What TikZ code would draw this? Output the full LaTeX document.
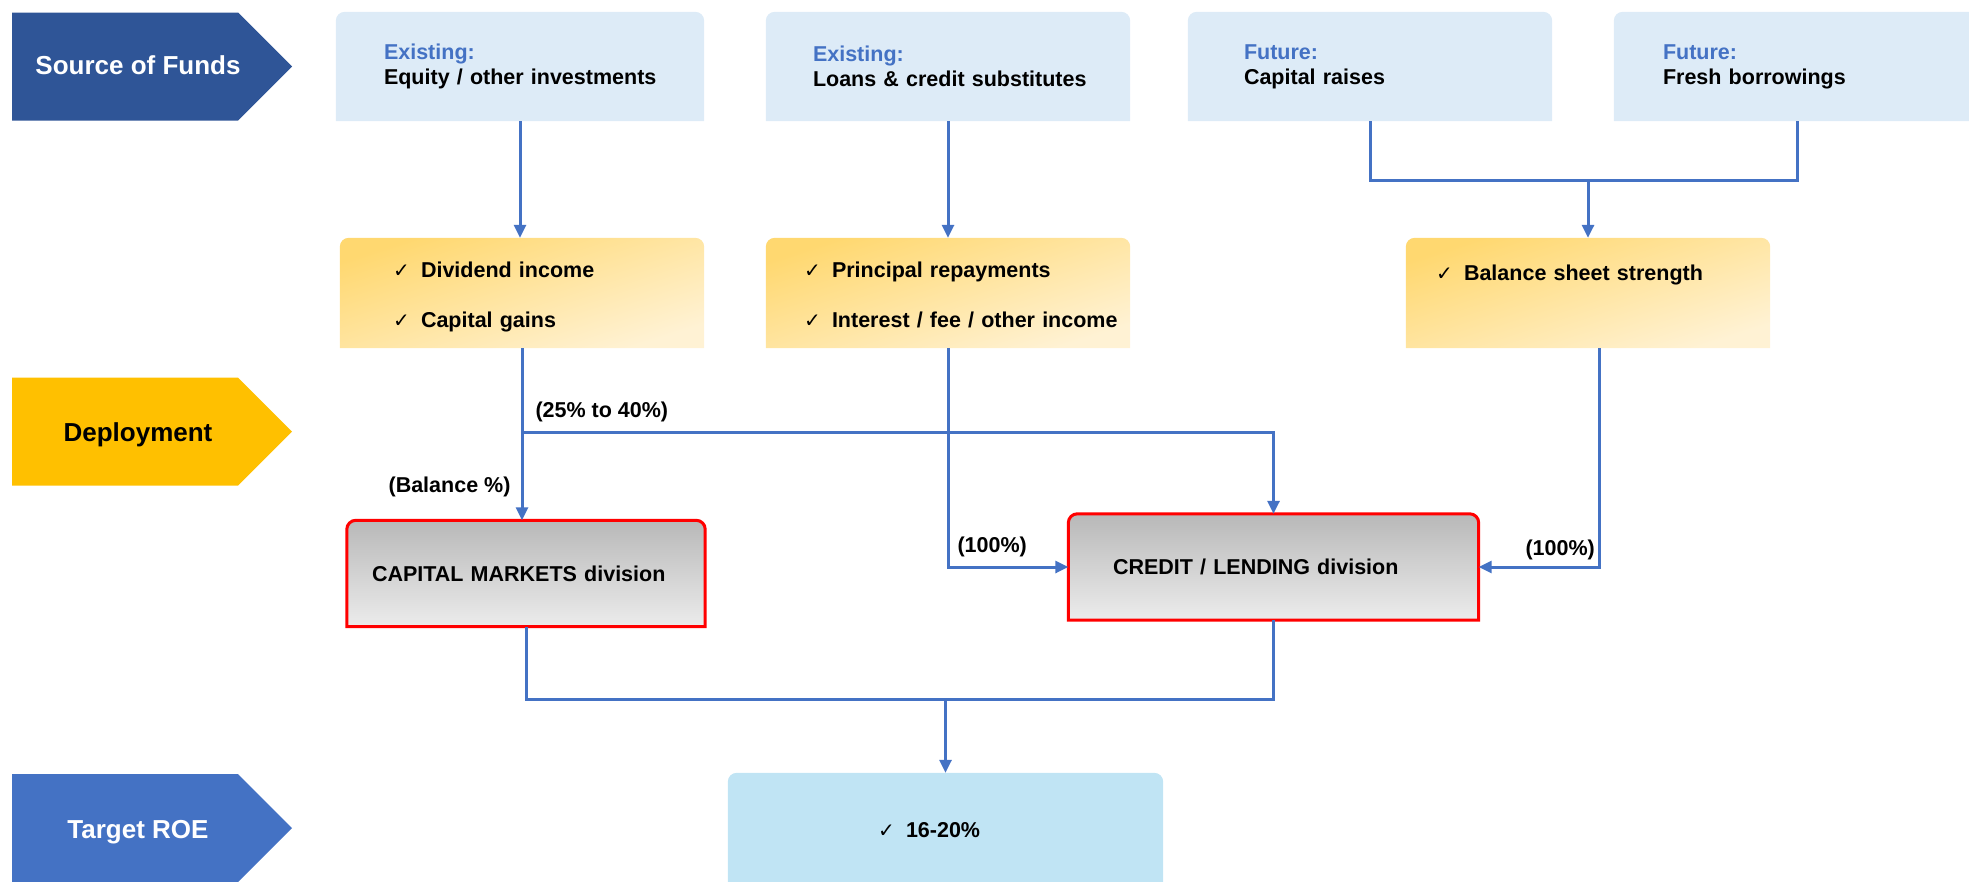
\documentclass[tikz,border=0pt]{standalone}
\usepackage{fontspec}
\setmainfont{Liberation Sans}
\newfontfamily\chkfont{DejaVu Sans}
\usetikzlibrary{arrows.meta,backgrounds,calc}
\usepackage{xcolor}
\definecolor{sofblue}{RGB}{47,85,151}
\definecolor{depgold}{RGB}{255,192,0}
\definecolor{roeblue}{RGB}{68,114,196}
\definecolor{hdrblue}{RGB}{68,114,196}
\definecolor{srcfill}{RGB}{221,235,247}
\definecolor{ydark}{RGB}{255,216,112}
\definecolor{ylight}{RGB}{255,242,212}
\definecolor{gdark}{RGB}{184,184,184}
\definecolor{glight}{RGB}{236,236,236}
\definecolor{roefill}{RGB}{192,228,244}
\definecolor{linkblue}{RGB}{68,114,196}
\definecolor{divred}{RGB}{255,0,0}

% check mark and text helpers
\newcommand{\chk}{\makebox[28pt][l]{\chkfont\fontsize{20}{20}\selectfont ✓}}
\newcommand{\itm}[1]{\mbox{\chk#1}}
\newcommand{\srctxt}[2]{{\color{hdrblue}#1}\\\mbox{#2}}
% box with rounded top corners only
\newcommand{\tabshape}[2]{%
  \path[#2] (#1.south west) -- ([yshift=-9pt]#1.north west)
    arc[start angle=180, end angle=90, radius=9pt]
    -- ([xshift=-9pt]#1.north east)
    arc[start angle=90, end angle=0, radius=9pt]
    -- (#1.south east) -- cycle;}
% row tag chevron
\newcommand{\rowtag}[2]{\fill[#2] (12,#1-54) -- (238,#1-54) -- (292,#1) -- (238,#1+54) -- (12,#1+54) -- cycle;}

\begin{document}
\begin{tikzpicture}[x=1pt, y=-1pt,
    srcbox/.style={rectangle, minimum height=109pt, inner ysep=0pt, align=left, font=\bfseries\fontsize{21.5}{25}\selectfont},
    yelbox/.style={rectangle, inner ysep=0pt, text height=39pt, text depth=71pt, align=left, font=\bfseries\fontsize{21.5}{50}\selectfont},
    yelshade/.style={top color=ydark, bottom color=ylight, shading angle=18},
    divbox/.style={rectangle, minimum height=106pt, inner ysep=0pt, align=left, font=\bfseries\fontsize{21.5}{25}\selectfont},
    tagtext/.style={anchor=base, font=\bfseries\fontsize{26}{30}\selectfont},
    pct/.style={font=\bfseries\fontsize{21.5}{25}\selectfont},
    link/.style={draw=linkblue, line width=3pt},
    flow/.style={link, -{Triangle[length=13pt, width=12pt]}}]
    \useasboundingbox (0,0) rectangle (1969,881);

    % row tags
    \rowtag{66.5}{sofblue}
    \rowtag{431.5}{depgold}
    \rowtag{828}{roeblue}
    \node[tagtext, text=white] (sof) at (138,74) {Source of Funds};
    \node[tagtext] (dep) at (138,441.5) {Deployment};
    \node[tagtext, text=white] (tro) at (138,838) {Target ROE};

    % sources
    \node[srcbox, inner xsep=48pt, text width=272pt] (eq) at (520,66.5) {\srctxt{Existing:}{Equity / other investments}};
    \node[srcbox, inner xsep=47pt, text width=270pt] (loans) at (948,66.5) {\srctxt{Existing:}{Loans \& credit substitutes}};
    \node[srcbox, inner xsep=56pt, text width=252pt] (raise) at (1370,66.5) {\srctxt{Future:}{Capital raises}};
    \node[srcbox, inner xsep=49pt, text width=268pt] (fresh) at (1797,66.5) {\srctxt{Future:}{Fresh borrowings}};

    % returns
    \node[yelbox, inner xsep=53pt, text width=258pt] (div) at (522,293) {\itm{Dividend income}\\\itm{Capital gains}};
    \node[yelbox, inner xsep=38pt, text width=288pt] (rep) at (948,293) {\itm{Principal repayments}\\\itm{Interest / fee / other income}};
    \node[yelbox, inner xsep=30pt, text width=304pt, text height=42pt, text depth=68pt] (bss) at (1588,293) {\itm{Balance sheet strength}};

    % divisions
    \node[divbox, inner xsep=25pt, text width=308pt] (cap) at (526,573.5) {CAPITAL MARKETS division};
    \node[divbox, inner xsep=44.5pt, text width=321pt] (cred) at (1273.5,567) {CREDIT / LENDING division};

    % target
    \node[rectangle, inner ysep=0pt, inner xsep=150pt, text width=135pt, text height=64pt, text depth=58pt, align=left, font=\bfseries\fontsize{21.5}{25}\selectfont] (roe) at (945.5,834) {\itm{16-20\%}};

    \begin{pgfonlayer}{background}
        \tabshape{eq}{fill=srcfill}
        \tabshape{loans}{fill=srcfill}
        \tabshape{raise}{fill=srcfill}
        \tabshape{fresh}{fill=srcfill}
        \tabshape{div}{yelshade}
        \tabshape{rep}{yelshade}
        \tabshape{bss}{yelshade}
        \tabshape{cap}{draw=divred, line width=3pt, top color=gdark, bottom color=glight}
        \tabshape{cred}{draw=divred, line width=3pt, top color=gdark, bottom color=glight}
        \tabshape{roe}{fill=roefill}
    \end{pgfonlayer}

    % percentages
    \node[pct, anchor=base west] (p1) at (532,417) {(25\% to 40\%)};
    \node[pct, anchor=base east] (p2) at (514,492) {(Balance \%)};
    \node[pct, anchor=base west] (p3) at (954,552) {(100\%)};
    \node[pct, anchor=base west] (p4) at (1522,555) {(100\%)};

    % connectors
    \draw[flow] (eq.south) -- (eq.south |- div.north);
    \draw[flow] (loans.south) -- (loans.south |- rep.north);
    \coordinate (mrg) at (bss.north |- 0,180);
    \draw[link] (raise.south) |- (mrg) -| (fresh.south);
    \draw[flow] (mrg) -- (bss.north);
    \coordinate (spl) at (div.south |- 0,432);
    \draw[link] (div.south) -- (spl);
    \draw[flow] (spl) -- (spl |- cap.north);
    \draw[flow] (spl) -| (cred.north);
    \draw[flow] (rep.south) |- (cred.west);
    \coordinate (bsso) at ([xshift=11pt]bss.south);
    \draw[flow] (bsso) |- (cred.east);
    \coordinate (sum) at (roe.north |- 0,699);
    \draw[link] (cap.south) |- (sum) -| (cred.south);
    \draw[flow] (sum) -- (roe.north);
\end{tikzpicture}
\end{document}
